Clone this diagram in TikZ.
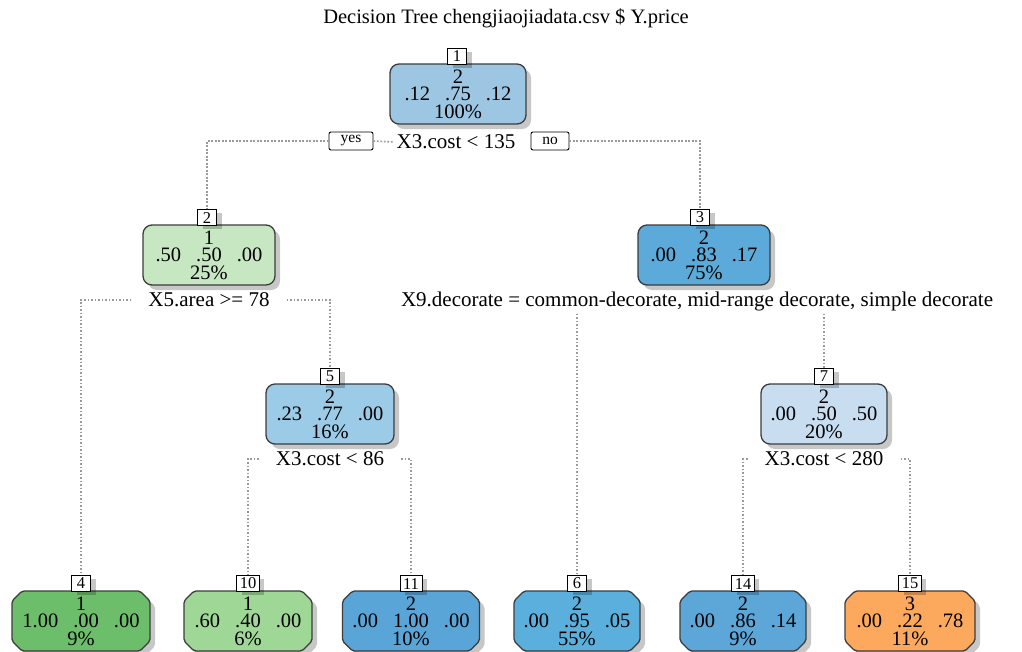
\documentclass[tikz,border=0pt]{standalone}
\usepackage{fontspec}
\setmainfont{Liberation Serif}
\usetikzlibrary{shadows,shapes.misc,calc}

% node fill colours (class 1 green, class 2 blue, class 3 orange)
\definecolor{cA}{HTML}{9CC6E2}
\definecolor{cB}{HTML}{C7E6C2}
\definecolor{cC}{HTML}{5BAAD9}
\definecolor{cE}{HTML}{9BCBE6}
\definecolor{cG}{HTML}{C9DDF1}
\definecolor{cD}{HTML}{6DBE6A}
\definecolor{cJ}{HTML}{9FD896}
\definecolor{cK}{HTML}{5AA5D8}
\definecolor{cF}{HTML}{5AAFDC}
\definecolor{cN}{HTML}{5CA6D8}
\definecolor{cO}{HTML}{FCA95E}
\definecolor{edgecol}{HTML}{3C3C3C}
\definecolor{dotcol}{HTML}{9A9A9A}

\newcommand\pgap{\hspace{15pt}}

\tikzset{
  treebox/.style={draw=edgecol, line width=1.3pt, rounded corners=9pt,
    minimum height=60pt, inner sep=0pt, align=center,
    font=\fontsize{20.5}{17.5}\selectfont,
    drop shadow={shadow xshift=5pt, shadow yshift=-5pt, fill=black, opacity=0.22}},
  leafbox/.style={treebox, rounded corners=2pt, chamfered rectangle,
    chamfered rectangle xsep=5pt, chamfered rectangle ysep=5pt},
  numlab/.style={draw=black, line width=0.9pt, fill=white, inner xsep=3pt,
    inner ysep=0pt, minimum height=16pt, minimum width=19pt, anchor=south,
    font=\fontsize{16.5}{16.5}\selectfont,
    drop shadow={shadow xshift=5pt, shadow yshift=-3pt, fill=black, opacity=0.22}},
  splitlab/.style={font=\fontsize{21}{21}\selectfont, inner xsep=17pt, inner ysep=3pt},
  yesno/.style={draw=black, line width=0.9pt, rounded corners=2pt, fill=white,
    font=\fontsize{15.5}{15.5}\selectfont, inner xsep=4pt, inner ysep=0pt,
    minimum height=18pt},
  conn/.style={draw=dotcol, line width=1.6pt, dash pattern=on 1.6pt off 1.9pt},
}

\begin{document}
\begin{tikzpicture}[x=1pt, y=-1pt]
\useasboundingbox (0,0) rectangle (1022,651);

% title
\node[font=\fontsize{20.5}{20.5}\selectfont] (title) at (506,18)
  {Decision Tree chengjiaojiadata.csv \$ Y.price};

% ---- root ----
\node[treebox, fill=cA, minimum width=136pt] (n1) at (458,94)
  {2\\.12\pgap.75\pgap.12\\100\%};
\node[numlab] (l1) at (457,65) {1};
\node[splitlab, inner xsep=3pt] (s1) at (456,142) {X3.cost < 135};
\node[yesno, minimum width=44pt] (yes) at (351,141) {yes};
\node[yesno, minimum width=38pt] (no) at (550,141) {no};

% ---- level 2 ----
\node[treebox, fill=cB, minimum width=132pt] (n2) at (209,255)
  {1\\.50\pgap.50\pgap.00\\25\%};
\node[numlab] (l2) at (207,226) {2};
\node[splitlab] (s2) at (209,300) {X5.area >= 78};

\node[treebox, fill=cC, minimum width=132pt] (n3) at (704,255)
  {2\\.00\pgap.83\pgap.17\\75\%};
\node[numlab] (l3) at (700,226) {3};
\node[splitlab] (s3) at (697,301)
  {X9.decorate = common-decorate, mid-range decorate, simple decorate};

% ---- level 3 ----
\node[treebox, fill=cE, minimum width=128pt] (n5) at (330,414)
  {2\\.23\pgap.77\pgap.00\\16\%};
\node[numlab] (l5) at (330,385) {5};
\node[splitlab] (s5) at (330,459) {X3.cost < 86};

\node[treebox, fill=cG, minimum width=126pt] (n7) at (824,414)
  {2\\.00\pgap.50\pgap.50\\20\%};
\node[numlab] (l7) at (824,385) {7};
\node[splitlab] (s7) at (824,459) {X3.cost < 280};

% ---- leaves ----
\node[leafbox, fill=cD, minimum width=138pt] (n4) at (81,621)
  {1\\1.00\pgap.00\pgap.00\\9\%};
\node[numlab] (l4) at (81,592) {4};
\node[leafbox, fill=cJ, minimum width=128pt] (n10) at (248,621)
  {1\\.60\pgap.40\pgap.00\\6\%};
\node[numlab] (l10) at (248,592) {10};
\node[leafbox, fill=cK, minimum width=137pt] (n11) at (411,621)
  {2\\.00\pgap1.00\pgap.00\\10\%};
\node[numlab] (l11) at (411,592) {11};
\node[leafbox, fill=cF, minimum width=126pt] (n6) at (577,621)
  {2\\.00\pgap.95\pgap.05\\55\%};
\node[numlab] (l6) at (577,592) {6};
\node[leafbox, fill=cN, minimum width=126pt] (n14) at (743,621)
  {2\\.00\pgap.86\pgap.14\\9\%};
\node[numlab] (l14) at (743,592) {14};
\node[leafbox, fill=cO, minimum width=130pt] (n15) at (910,621)
  {3\\.00\pgap.22\pgap.78\\11\%};
\node[numlab] (l15) at (910,592) {15};

% ---- connectors ----
\draw[conn] (yes.west) -| (l2.north);
\draw[conn] (no.east) -| (l3.north);
\draw[conn] (yes.east) -- (s1.west);
\draw[conn] (s2.west) -| (l4.north);
\draw[conn] (s2.east) -| (l5.north);
\draw[conn] (s3.south -| l6.north) -- (l6.north);
\draw[conn] (s3.south -| l7.north) -- (l7.north);
\draw[conn] (s5.west) -| (l10.north);
\draw[conn] (s5.east) -| (l11.north);
\draw[conn] (s7.west) -| (l14.north);
\draw[conn] (s7.east) -| (l15.north);
\end{tikzpicture}
\end{document}
